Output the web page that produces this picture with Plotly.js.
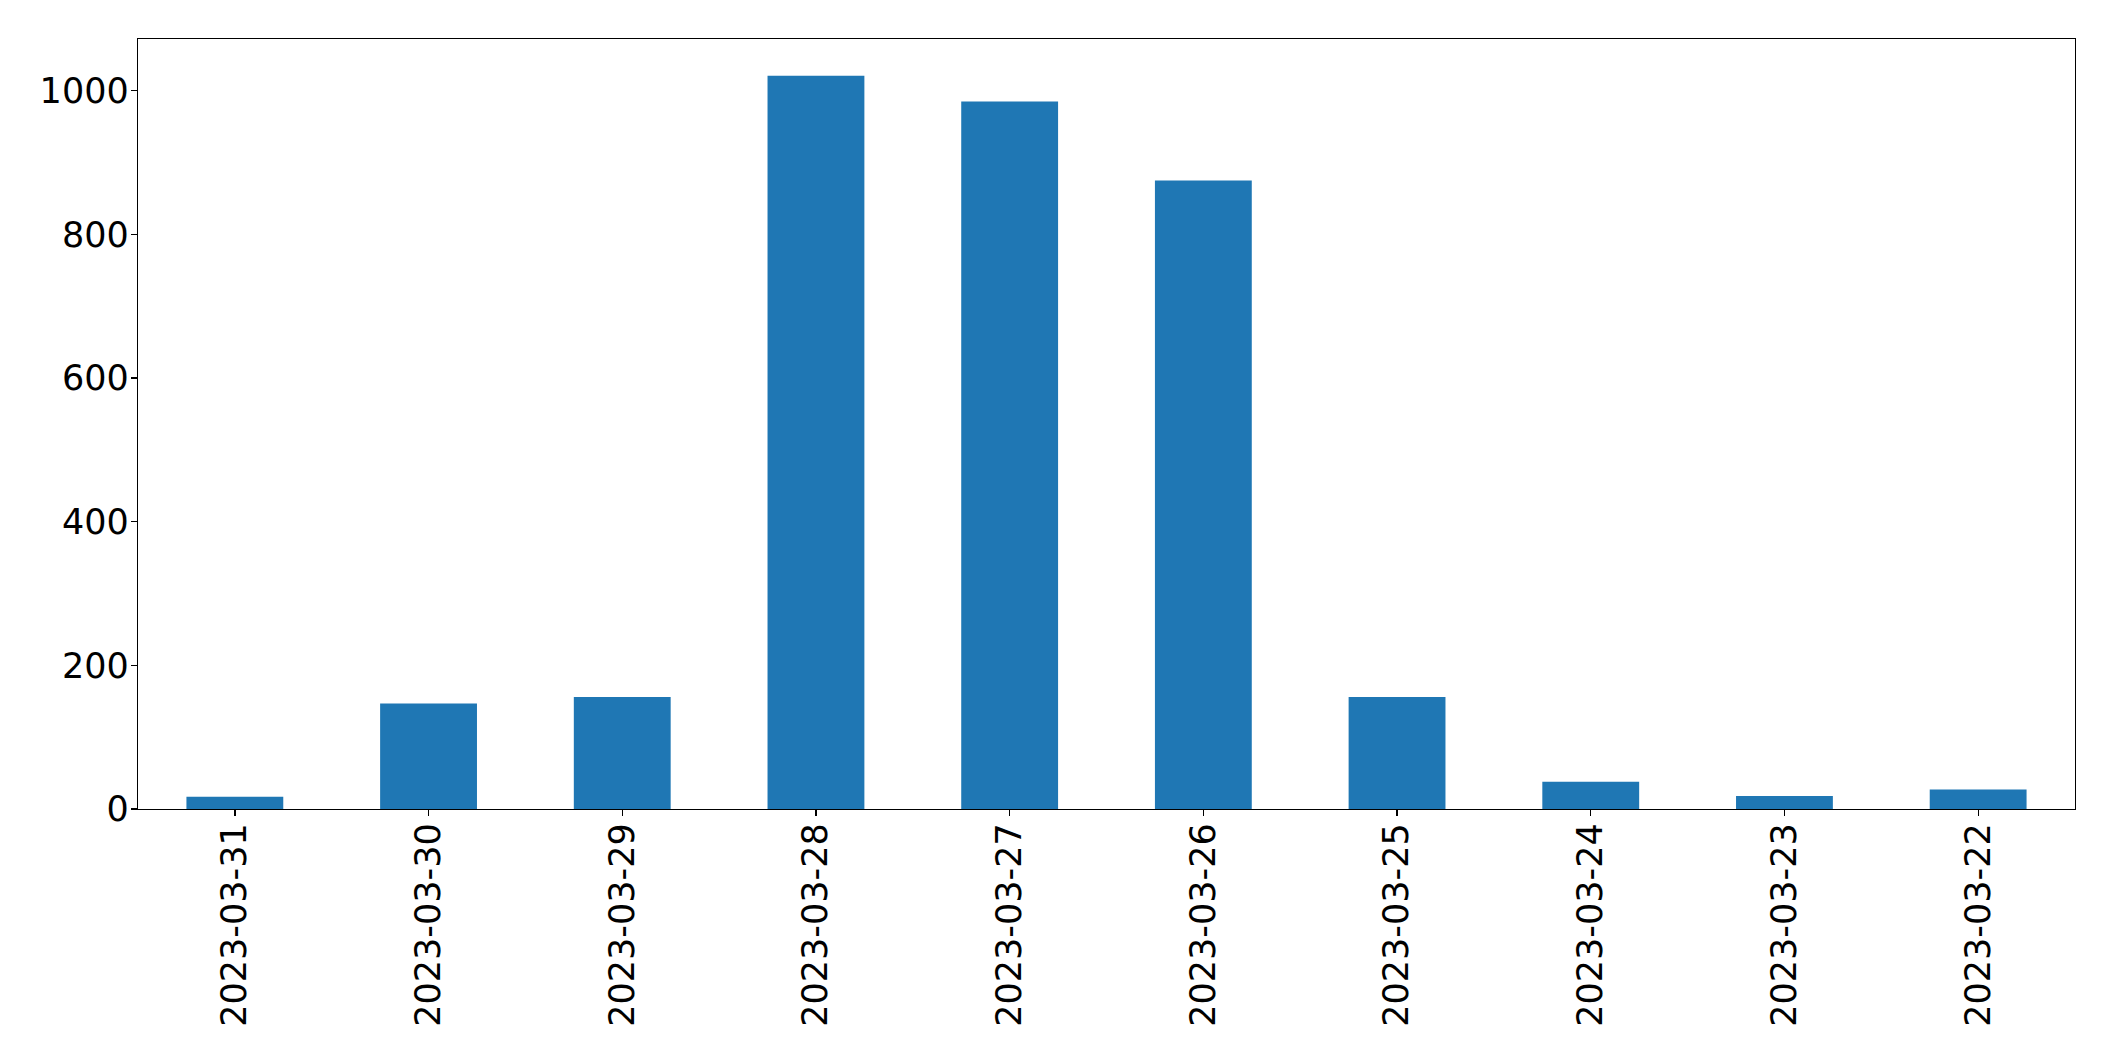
<!DOCTYPE html>
<html>
<head>
<meta charset="utf-8">
<script src="https://cdn.plot.ly/plotly-3.0.1.min.js"></script>
<style>html,body{margin:0;padding:0;background:#fff;}#chart{width:2115px;height:1061px;}</style>
</head>
<body>
<div id="chart"></div>
<script>
const dates = ["2023-03-31","2023-03-30","2023-03-29","2023-03-28","2023-03-27","2023-03-26","2023-03-25","2023-03-24","2023-03-23","2023-03-22"];
const counts = [17, 147, 156, 1021, 985, 875, 156, 38, 18, 27];
const yTicks = [0, 200, 400, 600, 800, 1000];

const trace = {
  type: 'bar',
  x: dates,
  y: counts,
  marker: {color: '#1f77b4', line: {width: 0}},
  hoverinfo: 'x+y'
};

const axisCommon = {
  showline: true, mirror: true, linecolor: '#000', linewidth: 1.3,
  ticks: 'outside', ticklen: 6, tickwidth: 1.3, tickcolor: '#000',
  showgrid: false, zeroline: false,
  tickfont: {family: 'DejaVu Sans', size: 35, color: '#000'}
};

const layout = {
  width: 2115, height: 1061,
  margin: {l: 138, r: 40, t: 39, b: 252},
  paper_bgcolor: '#fff', plot_bgcolor: '#fff',
  showlegend: false,
  bargap: 0.5,
  xaxis: Object.assign({}, axisCommon, {
    type: 'category', range: [-0.5, 9.5], tickangle: -90,
    categoryorder: 'array', categoryarray: dates, ticklabelstandoff: -7
  }),
  yaxis: Object.assign({}, axisCommon, {
    range: [0, 1072.05], tickmode: 'array', tickvals: yTicks, ticktext: yTicks.map(String),
    ticklabelstandoff: -5
  })
};

Plotly.newPlot('chart', [trace], layout, {displayModeBar: false, staticPlot: true});
</script>
</body>
</html>
